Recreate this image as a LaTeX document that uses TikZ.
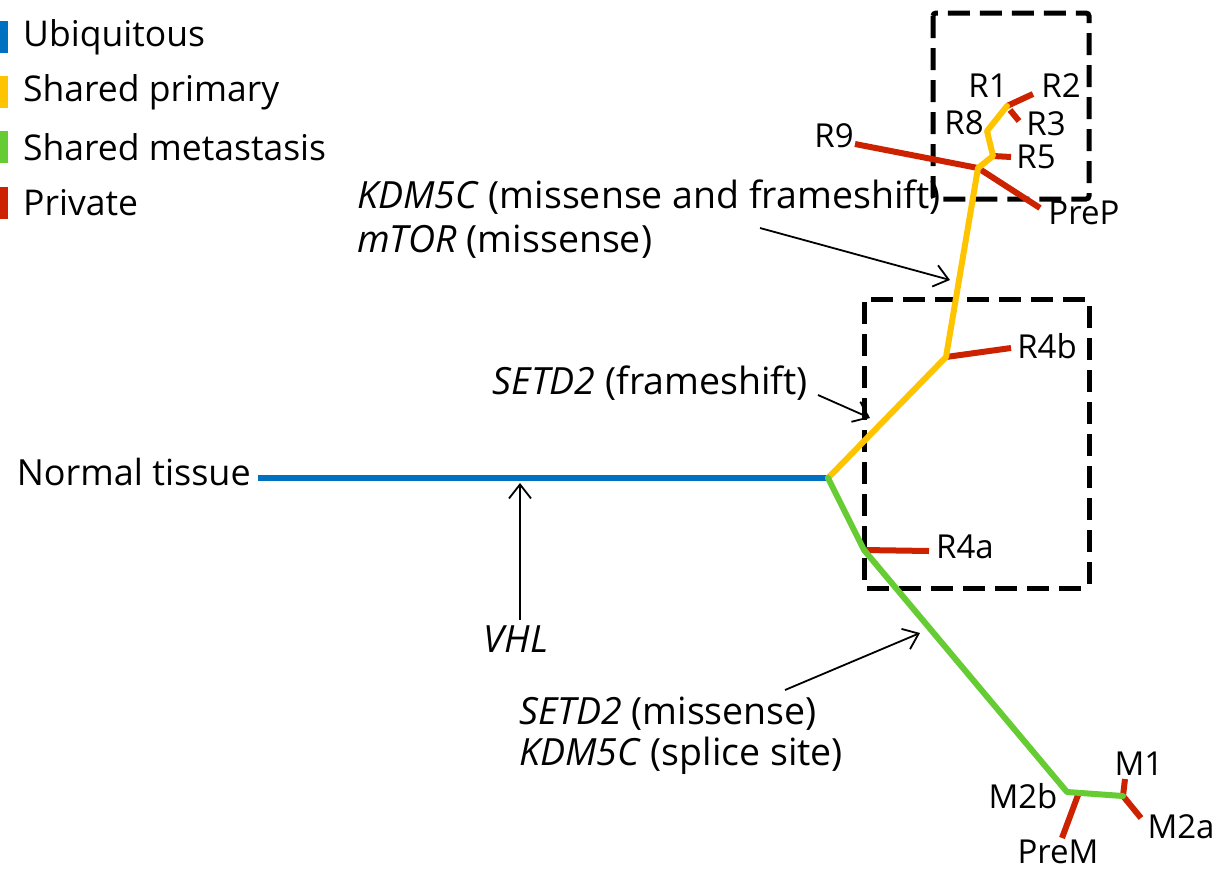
\documentclass[tikz,border=0pt]{standalone}
\usepackage{fontspec}
\setmainfont{Open Sans}
\usetikzlibrary{arrows.meta}
\definecolor{ubiq}{RGB}{0,112,192}
\definecolor{prim}{RGB}{255,196,0}
\definecolor{meta}{RGB}{102,204,51}
\definecolor{priv}{RGB}{204,34,0}
\tikzset{
  txt/.style={font=\fontsize{35.5}{42}\selectfont, inner sep=0pt, text=black},
  ntxt/.style={font=\fontsize{37.5}{44}\selectfont, inner sep=0pt, text=black},
  lbl/.style={font=\fontsize{33}{38}\selectfont, inner sep=0pt, text=black},
  branch/.style={line width=6pt, line join=round, line cap=round},
  ubranch/.style={branch, draw=ubiq, line cap=butt},
  pbranch/.style={branch, draw=prim},
  mbranch/.style={branch, draw=meta},
  rbranch/.style={branch, draw=priv, line cap=butt},
  region/.style={draw=black, line width=5pt, dash pattern=on 22pt off 10pt, rounded corners=3pt},
  note/.style={draw=black, line width=1.8pt, -{Straight Barb[length=14pt,width=22pt,line width=1.8pt]}},
  key/.style={minimum width=8pt, minimum height=32pt, inner sep=0pt, anchor=west}
}
\begin{document}
\begin{tikzpicture}[x=1pt,y=-1pt]
\useasboundingbox (0,0) rectangle (1221,873);

% legend
\node[key, fill=ubiq] (kU) at (0,37) {};
\node[key, fill=prim] (kP) at (0,92) {};
\node[key, fill=meta] (kM) at (0,147) {};
\node[key, fill=priv] (kR) at (0,203) {};
\node[txt, anchor=west] (tU) at (23,37) {Ubiquitous};
\node[txt, anchor=west] (tP) at (23,92) {Shared primary};
\node[txt, anchor=west] (tM) at (23,147) {Shared metastasis};
\node[txt, anchor=west] (tR) at (23,203) {Private};

% dashed regions
\draw[region] (933,13) rectangle (1089,199);
\draw[region] (864,299) rectangle (1089,588);

% branch points
\coordinate (u0) at (258,478);
\coordinate (root) at (828,478);
\coordinate (b4b) at (946,357);
\coordinate (yA) at (957,292);
\coordinate (b9) at (978,168);
\coordinate (b5) at (993,156);
\coordinate (yB) at (987,131);
\coordinate (b1) at (1007,106);
\coordinate (b4a) at (864,550);
\coordinate (bM2b) at (1067,792);
\coordinate (bM1) at (1123,796);
\coordinate (bPreM) at (1078,795);

% leaf ends
\coordinate (eR2) at (1033,94);
\coordinate (sR3) at (1010,110);
\coordinate (eR3) at (1019,121);
\coordinate (eR5) at (1011,157);
\coordinate (eR9) at (855,144);
\coordinate (ePreP) at (1040,208);
\coordinate (eR4b) at (1011,348);
\coordinate (eR4a) at (929,551);
\coordinate (eM1) at (1125,779);
\coordinate (eM2a) at (1141,818);
\coordinate (ePreM) at (1062,838);

% labels
\node[txt, font=\fontsize{36}{42}\selectfont, anchor=east] (normal) at (251,472) {Normal tissue};
\node[lbl] (lR1) at (988,86) {R1};
\node[lbl] (lR2) at (1061,86) {R2};
\node[lbl] (lR8) at (964,123) {R8};
\node[lbl] (lR3) at (1046,124) {R3};
\node[lbl] (lR5) at (1036,157) {R5};
\node[lbl] (lR9) at (834,136) {R9};
\node[lbl] (lPreP) at (1084,213) {PreP};
\node[lbl] (lR4b) at (1047,346) {R4b};
\node[lbl] (lR4a) at (965,547) {R4a};
\node[lbl] (lM1) at (1139,764) {M1};
\node[lbl] (lM2b) at (1023,796) {M2b};
\node[lbl] (lM2a) at (1181,827) {M2a};
\node[lbl] (lPreM) at (1058,852) {PreM};

% private branches
\draw[rbranch] (eR9) -- (b9) -- (ePreP);
\draw[rbranch] (b1) -- (eR2);
\draw[rbranch] (sR3) -- (eR3);
\draw[rbranch] (b5) -- (eR5);
\draw[rbranch] (b4b) -- (eR4b);
\draw[rbranch] (b4a) -- (eR4a);
\draw[rbranch] (eM1) -- (bM1) -- (eM2a);
\draw[rbranch] (bPreM) -- (ePreM);

% shared trunks
\draw[ubranch] (u0) -- (root);
\draw[pbranch] (root) -- (b4b) -- (yA) -- (b9) -- (b5) -- (yB) -- (b1);
\draw[mbranch] (root) -- (b4a) -- (bM2b) -- (bM1);

% mutation notes
\node[ntxt, anchor=west] (n1a) at (357,197) {\textit{KDM5C} (missense and frameshift)};
\node[ntxt, anchor=west] (n1b) at (357,242) {\textit{mTOR} (missense)};
\node[ntxt, anchor=east] (n2) at (808,383) {\textit{SETD2} (frameshift)};
\node[ntxt] (n3) at (516,639) {\textit{VHL}};
\node[ntxt, anchor=west] (n4a) at (519,714) {\textit{SETD2} (missense)};
\node[ntxt, anchor=west] (n4b) at (519,756) {\textit{KDM5C} (splice site)};

\coordinate (s1) at (760,228);
\coordinate (s2) at (818,395);
\coordinate (s3) at (520,620);
\coordinate (s4) at (785,690);
\coordinate (t1) at (950,280);
\coordinate (t2) at (870,418);
\coordinate (t3) at (520,483);
\coordinate (t4) at (920,633);
\draw[note] (s1) -- (t1);
\draw[note] (s2) -- (t2);
\draw[note] (s3) -- (t3);
\draw[note] (s4) -- (t4);
\end{tikzpicture}
\end{document}
